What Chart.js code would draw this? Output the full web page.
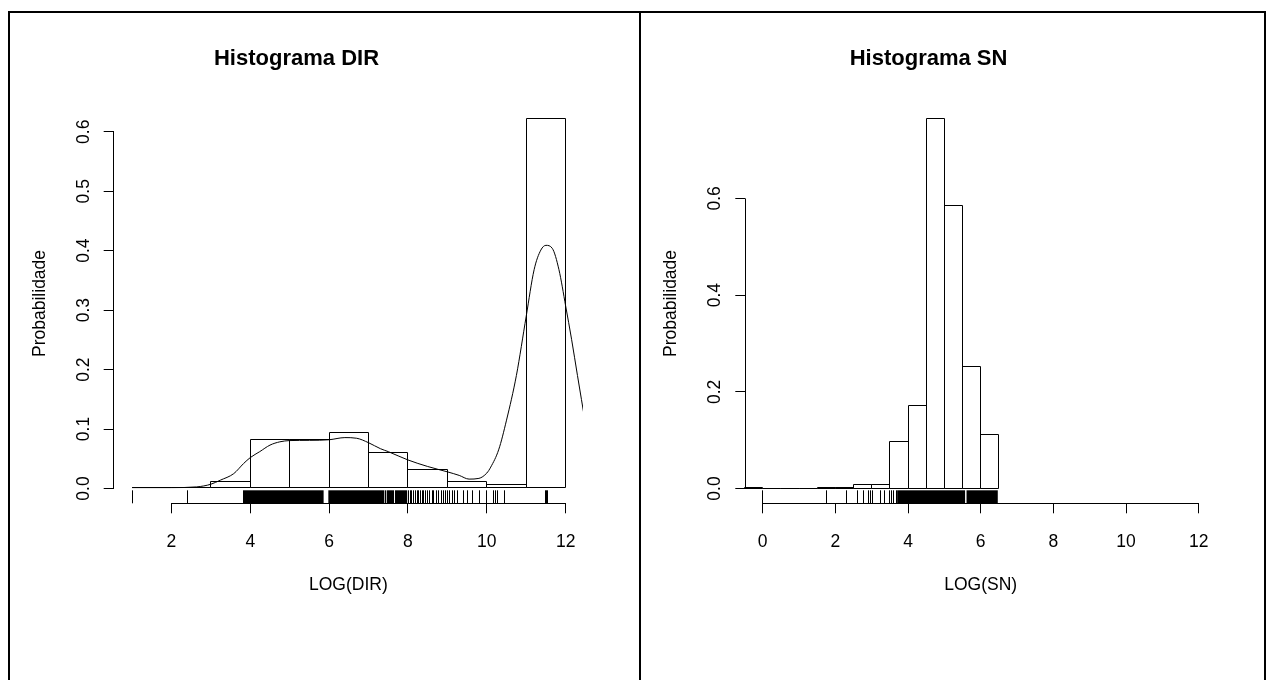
<!DOCTYPE html>
<html>
<head>
<meta charset="utf-8">
<script src="https://cdn.jsdelivr.net/npm/chart.js@4/dist/chart.umd.min.js"></script>
<style>
html,body{margin:0;padding:0;background:#fff;width:1273px;height:680px;overflow:hidden}
#frame{position:absolute;left:8px;top:11px;width:1254px;height:700px;border:2px solid #000;border-bottom:none}
#divider{position:absolute;left:639px;top:11px;width:2px;height:700px;background:#000}
canvas{position:absolute;top:13px}
#c1{left:10px}
#c2{left:641px}
</style>
</head>
<body>
<div id="frame"></div>
<div id="divider"></div>
<canvas id="c1" width="629" height="667"></canvas>
<canvas id="c2" width="623" height="667"></canvas>
<script>
// ---------- DATA ----------
// Histograma DIR (bins of width 1, from 1 to 12)
const dirBinCenters = [1.5, 2.5, 3.5, 4.5, 5.5, 6.5, 7.5, 8.5, 9.5, 10.5, 11.5];
const dirDensityBars = [0.0017, 0.0017, 0.0115, 0.0826, 0.0817, 0.094, 0.0606, 0.0313, 0.0118, 0.006, 0.6225];
// kernel density curve
const dirCurveX = [1.0, 2.0, 2.64, 3.0, 3.24, 3.58, 3.83, 4.0, 4.24, 4.5, 4.75, 5.0, 5.5, 6.0, 6.4, 6.7, 7.0, 7.3, 7.5, 8.0, 8.5, 9.0, 9.3, 9.55, 9.8, 10.0, 10.1, 10.3, 10.5, 10.75, 11.0, 11.2, 11.37, 11.5, 11.66, 11.83, 12.0, 12.15, 12.3, 12.5];
const dirCurveY = [0.0015, 0.0015, 0.0027, 0.0072, 0.014, 0.025, 0.042, 0.052, 0.062, 0.073, 0.0785, 0.0806, 0.081, 0.082, 0.0856, 0.0845, 0.077, 0.067, 0.062, 0.048, 0.037, 0.028, 0.022, 0.0158, 0.017, 0.026, 0.036, 0.065, 0.115, 0.19, 0.29, 0.368, 0.401, 0.409, 0.404, 0.368, 0.307, 0.251, 0.19, 0.11];
// rug: isolated observations and ranges where observations are too dense to separate
const dirRugTicks = [1.02, 2.41, 3.82, 7.43, 7.64, 8.02, 8.06, 8.10, 8.14, 8.19, 8.23, 8.27, 8.31, 8.36, 8.40, 8.45, 8.50, 8.55, 8.61, 8.66, 8.72, 8.78, 8.84, 8.90, 8.96, 9.01, 9.06, 9.13, 9.17, 9.25, 9.42, 9.50, 9.64, 9.82, 9.98, 10.16, 10.23, 10.26, 10.46, 11.50, 11.52, 11.54];
const dirRugDense = [[3.84, 5.86], [5.98, 7.40], [7.46, 7.62], [7.67, 7.98]];
const dirXTicks = [2, 4, 6, 8, 10, 12];
const dirXTickLabels = ['2', '4', '6', '8', '10', '12'];
const dirYTicks = [0, 0.1, 0.2, 0.3, 0.4, 0.5, 0.6];
const dirYTickLabels = ['0.0', '0.1', '0.2', '0.3', '0.4', '0.5', '0.6'];
const dirXRange = [0.535, 12.44];
const dirYRange = [-0.0249, 0.6474];

// Histograma SN (bins of width 0.5, from -0.5 to 6.5)
const snBinCenters = [-0.25, 0.25, 0.75, 1.25, 1.75, 2.25, 2.75, 3.25, 3.75, 4.25, 4.75, 5.25, 5.75, 6.25];
const snDensityBars = [0.002, 0, 0, 0, 0.002, 0.002, 0.0083, 0.0083, 0.0966, 0.171, 0.7655, 0.5855, 0.2524, 0.111];
const snRugTicks = [0, 1.76, 2.30, 2.62, 2.77, 2.91, 2.97, 3.02, 3.23, 3.35, 3.49, 3.55, 3.61, 3.67];
const snRugDense = [[3.70, 5.57], [5.61, 6.47]];
const snXTicks = [0, 2, 4, 6, 8, 10, 12];
const snXTickLabels = ['0', '2', '4', '6', '8', '10', '12'];
const snYTicks = [0, 0.2, 0.4, 0.6];
const snYTickLabels = ['0.0', '0.2', '0.4', '0.6'];
const snXRange = [-0.48, 12.48];
const snYRange = [-0.0306, 0.7961];

// ---------- DRAWING ----------
const FONT = "'Liberation Sans', Arial, Helvetica, sans-serif";
Chart.defaults.font.family = FONT;

function align1(p) { return Math.round(p - 0.5) + 0.5; }

const rPlugin = {
  id: 'rStyle',
  afterDatasetsDraw(chart) {
    const o = chart.options.plugins.rStyle;
    const {ctx, chartArea} = chart;
    const x = chart.scales.x;
    ctx.save();
    ctx.strokeStyle = '#000';
    ctx.fillStyle = '#000';
    ctx.lineWidth = 1;
    // histogram rectangles: outline every bar element computed by the bar controller
    const meta = chart.getDatasetMeta(0);
    ctx.beginPath();
    meta.data.forEach(el => {
      const p = el.getProps(['x', 'y', 'base', 'width'], true);
      const l = align1(p.x - p.width / 2), r = align1(p.x + p.width / 2);
      const t = align1(p.y), b = align1(p.base);
      ctx.moveTo(l, b); ctx.lineTo(l, t); ctx.lineTo(r, t); ctx.lineTo(r, b); ctx.closePath();
    });
    ctx.stroke();
    // rug
    const by = chartArea.bottom;
    const len = 13;
    ctx.beginPath();
    o.rugTicks.forEach(v => {
      const px = align1(x.getPixelForValue(v));
      ctx.moveTo(px, by);
      ctx.lineTo(px, by - len);
    });
    ctx.stroke();
    o.rugDense.forEach(([a, b]) => {
      const pa = x.getPixelForValue(a), pb = x.getPixelForValue(b);
      ctx.fillRect(pa, by - len, pb - pa, len);
    });
    ctx.restore();
  },
  afterDraw(chart) {
    const o = chart.options.plugins.rStyle;
    const {ctx, chartArea} = chart;
    const x = chart.scales.x, y = chart.scales.y;
    ctx.save();
    ctx.strokeStyle = '#000';
    ctx.lineWidth = 1;
    ctx.beginPath();
    const yb = align1(chartArea.bottom);
    ctx.moveTo(x.getPixelForValue(o.xTicks[0]), yb);
    ctx.lineTo(x.getPixelForValue(o.xTicks[o.xTicks.length - 1]), yb);
    const xl = align1(chartArea.left);
    ctx.moveTo(xl, y.getPixelForValue(o.yTicks[0]));
    ctx.lineTo(xl, y.getPixelForValue(o.yTicks[o.yTicks.length - 1]));
    ctx.stroke();
    ctx.restore();
  }
};

function panel(id, o) {
  const h = o.bars;
  const datasets = [
    {
      type: 'bar',
      data: o.centers.map((c, i) => ({x: c, y: h[i]})),
      backgroundColor: 'rgba(0,0,0,0)',
      borderColor: 'rgba(0,0,0,0)',
      borderWidth: 0,
      inflateAmount: 0,
      barPercentage: 1,
      categoryPercentage: 1,
      order: 2
    }
  ];
  if (o.curveX) {
    datasets.push({
      type: 'line',
      data: o.curveX.map((v, i) => ({x: v, y: o.curveY[i]})),
      borderColor: '#000', borderWidth: 1, pointRadius: 0,
      cubicInterpolationMode: 'monotone', fill: false, order: 0
    });
  }
  const tickFont = {family: FONT, size: 17.5};
  return new Chart(document.getElementById(id), {
    type: 'scatter',
    data: {datasets},
    options: {
      responsive: false,
      animation: false,
      events: [],
      layout: {padding: {left: 0, top: 0, right: o.padRight, bottom: 76.7}},
      plugins: {
        legend: {display: false},
        tooltip: {enabled: false},
        title: {
          display: true, text: o.title, color: '#000',
          font: {family: FONT, size: 22, weight: 'bold'},
          padding: {top: 32.4, bottom: 31.8}
        },
        rStyle: {rugTicks: o.rugTicks, rugDense: o.rugDense, xTicks: o.xTicks, yTicks: o.yTicks}
      },
      scales: {
        x: {
          type: 'linear', min: o.xRange[0], max: o.xRange[1], offset: false,
          afterBuildTicks: s => { s.ticks = o.xTicks.map(v => ({value: v})); },
          afterFit: s => { s.height = 100; },
          grid: {display: true, drawOnChartArea: false, drawTicks: true, tickLength: 10, tickColor: '#000', tickWidth: 1, offset: false},
          border: {display: false},
          ticks: {color: '#000', font: tickFont, padding: 17.9, autoSkip: false, minRotation: 0, maxRotation: 0,
            callback: (v, i) => o.xTickLabels[i]},
          title: {display: true, text: o.xTitle, color: '#000', font: tickFont, padding: {top: 0, bottom: 7.8}}
        },
        y: {
          type: 'linear', min: o.yRange[0], max: o.yRange[1],
          afterBuildTicks: s => { s.ticks = o.yTicks.map(v => ({value: v})); },
          afterFit: s => { s.width = o.yWidth; },
          grid: {display: true, drawOnChartArea: false, drawTicks: true, tickLength: 10, tickColor: '#000', tickWidth: 1},
          border: {display: false},
          ticks: {color: '#000', font: tickFont, padding: 7.5, autoSkip: false, minRotation: 90, maxRotation: 90, crossAlign: 'center',
            callback: (v, i) => o.yTickLabels[i]},
          title: {display: true, text: 'Probabilidade', color: '#000', font: tickFont, padding: {top: 19.5, bottom: 0}}
        }
      }
    },
    plugins: [rPlugin]
  });
}

panel('c1', {
  title: 'Histograma DIR', xTitle: 'LOG(DIR)',
  centers: dirBinCenters, bars: dirDensityBars,
  curveX: dirCurveX, curveY: dirCurveY,
  rugTicks: dirRugTicks, rugDense: dirRugDense,
  xTicks: dirXTicks, xTickLabels: dirXTickLabels, yTicks: dirYTicks, yTickLabels: dirYTickLabels,
  xRange: dirXRange, yRange: dirYRange, yWidth: 103.7, padRight: 56
});
panel('c2', {
  title: 'Histograma SN', xTitle: 'LOG(SN)',
  centers: snBinCenters, bars: snDensityBars,
  rugTicks: snRugTicks, rugDense: snRugDense,
  xTicks: snXTicks, xTickLabels: snXTickLabels, yTicks: snYTicks, yTickLabels: snYTickLabels,
  xRange: snXRange, yRange: snYRange, yWidth: 104.3, padRight: 47.9
});
</script>
</body>
</html>
